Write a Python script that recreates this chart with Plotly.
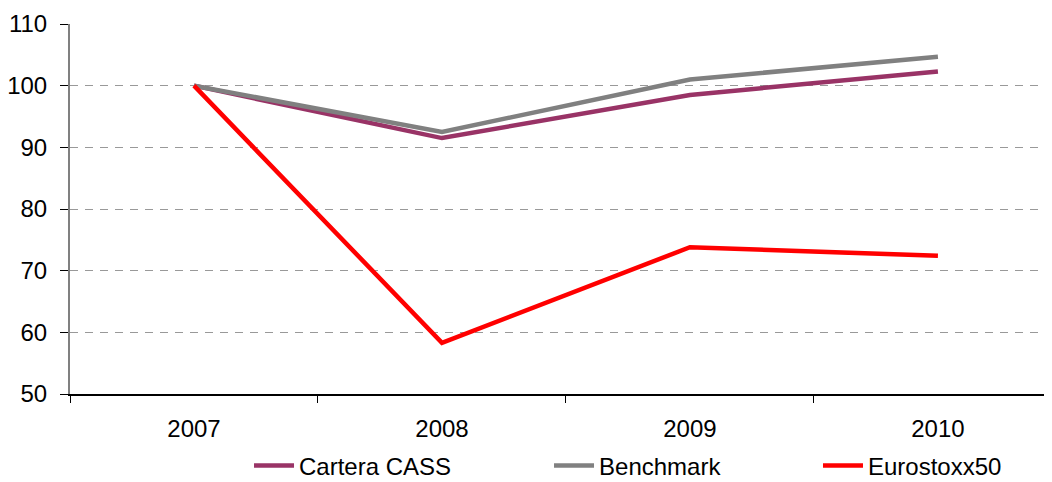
import plotly.graph_objects as go

years = ["2007", "2008", "2009", "2010"]
cartera = [100, 91.5, 98.5, 102.3]
benchmark = [100, 92.5, 101.0, 104.7]
eurostoxx = [100, 58.3, 73.8, 72.4]

series = [
    ("Cartera CASS", cartera, "#993366", "legend", 0.1823),
    ("Benchmark", benchmark, "#808080", "legend2", 0.4878),
    ("Eurostoxx50", eurostoxx, "#FF0000", "legend3", 0.7617),
]

fig = go.Figure()
legends = {}
for name, vals, color, leg, lx in series:
    fig.add_trace(go.Scatter(
        x=years, y=vals, name=name, mode="lines",
        line=dict(color=color, width=4.5), legend=leg,
    ))
    legends[leg] = dict(
        orientation="h", x=lx, xanchor="left", y=-0.194, yanchor="middle",
        font=dict(size=24), itemwidth=40, bgcolor="rgba(0,0,0,0)",
        borderwidth=0,
    )

fig.update_layout(
    width=1044, height=474,
    margin=dict(l=62, r=0, t=16, b=88, autoexpand=False),
    paper_bgcolor="white", plot_bgcolor="white",
    font=dict(family="Liberation Sans, Arial, sans-serif", size=24, color="black"),
    showlegend=True,
    **legends,
)
fig.update_xaxes(
    type="category", range=[-0.5, 3.46], automargin=False,
    showline=True, linecolor="black", linewidth=1.5,
    ticks="outside", tickson="boundaries", ticklen=7, tickcolor="black",
    showgrid=False, zeroline=False,
    ticklabelstandoff=12, tickfont=dict(size=24),
)
fig.update_yaxes(
    range=[50, 110], dtick=10, automargin=False,
    showline=True, linecolor="#808080", linewidth=2,
    ticks="outside", ticklen=8, tickcolor="black",
    showgrid=True, gridcolor="#999999", griddash="8px,7px", gridwidth=1,
    zeroline=False, tickfont=dict(size=24), ticklabelstandoff=8,
)

fig.write_html("out.html")
